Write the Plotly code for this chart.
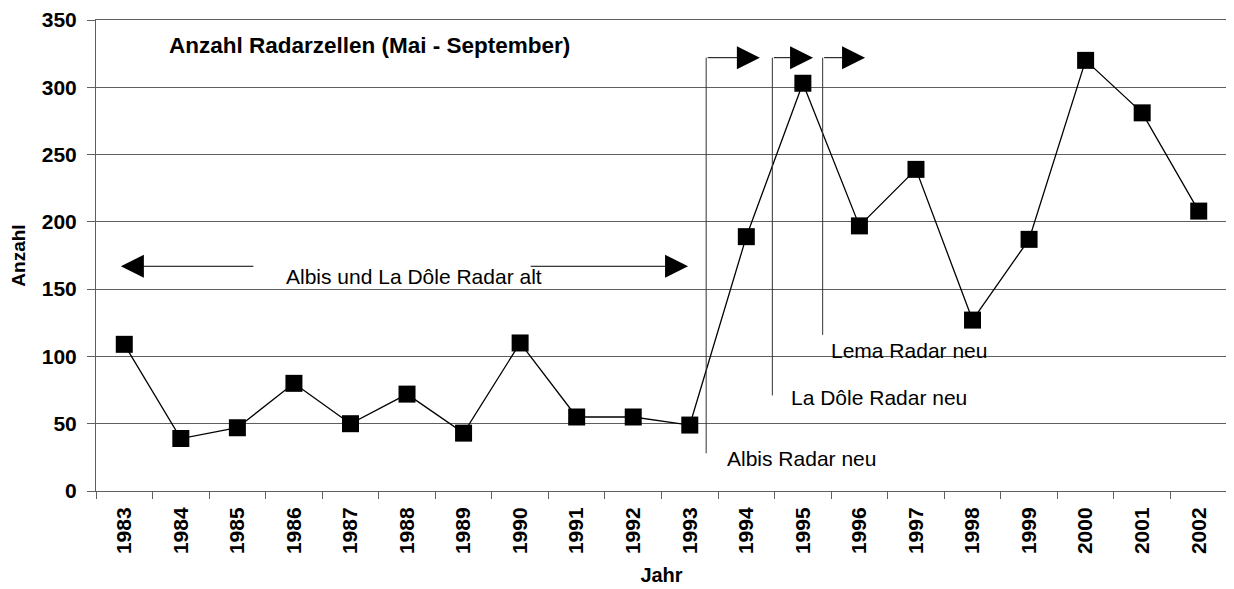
import plotly.graph_objects as go

years = [str(y) for y in range(1983, 2003)]
counts = [109, 39, 47, 80, 50, 72, 43, 110, 55, 55, 49, 189, 303, 197, 239, 127, 187, 320, 281, 208]
y_ticks = [0, 50, 100, 150, 200, 250, 300, 350]

FONT = "Arial, Liberation Sans, sans-serif"
GRID = "#5f5f5f"

fig = go.Figure()
fig.add_trace(go.Scatter(
    x=years, y=counts, mode="lines+markers",
    line=dict(color="black", width=1.3),
    marker=dict(symbol="square", size=17, color="black"),
    showlegend=False, hoverinfo="x+y",
))

# radar change markers (x in category-index units)
radar_events = [
    # (vertical-line x, bottom value, top value, arrow tip x, label x, label y, label)
    (10.29, 28, 322, 11.24, 10.62, 24.5, "Albis Radar neu"),
    (11.46, 71, 322, 12.18, 11.75, 69.3, "La Dôle Radar neu"),
    (12.35, 116, 322, 13.10, 12.46, 104.3, "Lema Radar neu"),
]

shapes = []
annotations = []
for vx, yb, yt, tip, lx, ly, txt in radar_events:
    shapes.append(dict(type="line", xref="x", yref="y", x0=vx, x1=vx, y0=yb, y1=yt,
                       line=dict(color="#333333", width=1)))
    annotations.append(dict(x=tip, y=yt, xref="x", yref="y", ax=vx, ay=yt, axref="x", ayref="y",
                            showarrow=True, arrowhead=2, arrowsize=4.6, arrowwidth=1,
                            arrowcolor="black", text=""))
    annotations.append(dict(x=lx, y=ly, xref="x", yref="y", text=txt, showarrow=False,
                            xanchor="left", yanchor="middle",
                            font=dict(family=FONT, size=21, color="black")))

# old radar period double arrow
annotations.append(dict(x=-0.06, y=167, xref="x", yref="y", ax=2.31, ay=167, axref="x", ayref="y",
                        showarrow=True, arrowhead=2, arrowsize=4.6, arrowwidth=1,
                        arrowcolor="black", text=""))
annotations.append(dict(x=9.97, y=167, xref="x", yref="y", ax=7.16, ay=167, axref="x", ayref="y",
                        showarrow=True, arrowhead=2, arrowsize=4.6, arrowwidth=1,
                        arrowcolor="black", text=""))
annotations.append(dict(x=5.12, y=159.5, xref="x", yref="y", text="Albis und La Dôle Radar alt",
                        showarrow=False, xanchor="center", yanchor="middle",
                        font=dict(family=FONT, size=21, color="black")))

# chart title inside plot
annotations.append(dict(x=0.755, y=331, xref="x", yref="y",
                        text="<b>Anzahl Radarzellen (Mai - September)</b>",
                        showarrow=False, xanchor="left", yanchor="middle",
                        font=dict(family=FONT, size=22.5, color="black")))

# the page body has an 8px margin, so the figure is shrunk and shifted to compensate
fig.update_layout(
    width=1226, height=581,
    margin=dict(l=88, r=7, t=12, b=98, autoexpand=False),
    paper_bgcolor="white", plot_bgcolor="white",
    font=dict(family=FONT, color="black"),
    shapes=shapes, annotations=annotations,
    xaxis=dict(
        type="category", range=[-0.5, 19.5],
        tickson="boundaries", ticks="outside", ticklen=7, tickcolor=GRID, tickwidth=1,
        tickangle=-90, tickfont=dict(family=FONT, size=21, color="black", weight="bold"),
        ticklabelstandoff=7,
        showline=True, linecolor=GRID, linewidth=1, mirror=True,
        showgrid=False,
        title=dict(text="<b>Jahr</b>", font=dict(family=FONT, size=20, color="black"), standoff=14),
    ),
    yaxis=dict(
        range=[0, 350], tickvals=y_ticks,
        ticks="outside", ticklen=8, tickcolor=GRID, tickwidth=1,
        tickfont=dict(family=FONT, size=21, color="black", weight="bold"),
        ticklabelstandoff=6,
        showline=True, linecolor=GRID, linewidth=1, mirror=True,
        showgrid=True, gridcolor=GRID, gridwidth=1, zeroline=False,
        title=dict(text="<b>Anzahl</b>", font=dict(family=FONT, size=19, color="black"), standoff=12),
    ),
)

fig.write_html("out.html")
